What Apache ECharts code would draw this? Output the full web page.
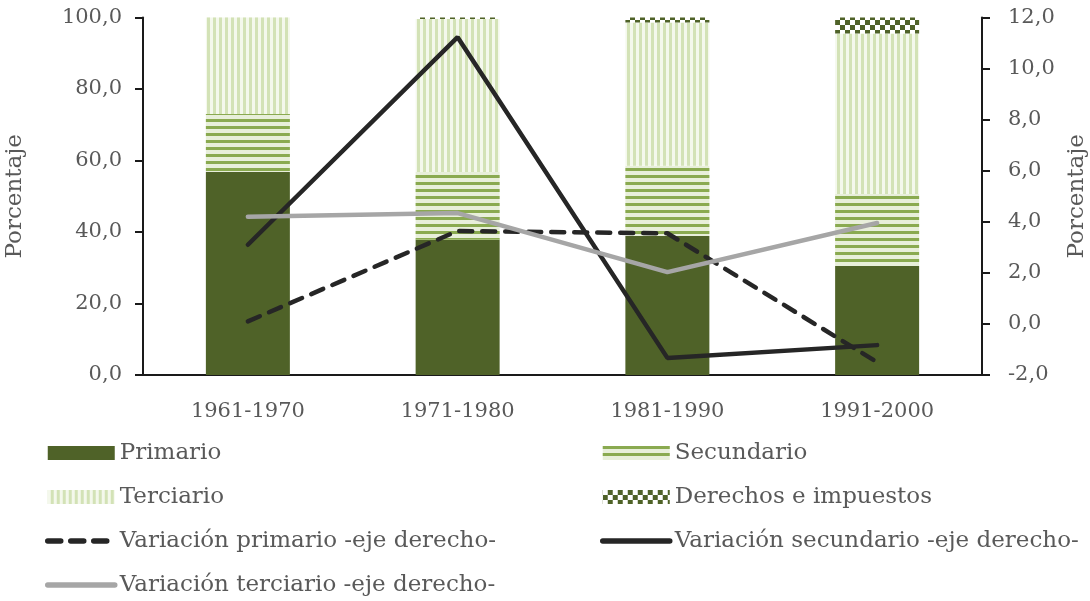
<!DOCTYPE html>
<html>
<head>
<meta charset="utf-8">
<script src="https://cdn.jsdelivr.net/npm/echarts@6/dist/echarts.min.js"></script>
<style>html,body{margin:0;padding:0;background:#fff}#c{width:1090px;height:601px}</style>
</head>
<body>
<div id="c"></div>
<script>
const categories = ['1961-1970', '1971-1980', '1981-1990', '1991-2000'];
const primario = [56.8, 37.8, 38.9, 30.5];
const secundario = [16.2, 19.0, 19.6, 20.1];
const terciario = [27.0, 42.8, 40.1, 44.9];
const derechos = [0.0, 0.4, 1.4, 4.5];
const varPrimario = [0.1, 3.64, 3.55, -1.5];
const varSecundario = [3.1, 11.23, -1.33, -0.83];
const varTerciario = [4.2, 4.34, 2.03, 3.95];
const leftTicks = {min: 0, max: 100, interval: 20};
const rightTicks = {min: -2, max: 12, interval: 2};

const FONT = '"DejaVu Serif", serif';
const TXT = '#595959';
const fmt = v => v.toFixed(1).replace('.', ',');

const chart = echarts.init(document.getElementById('c'), null, {renderer: 'canvas'});
const axisLine = {show: true, lineStyle: {color: '#1a1a1a', width: 2}};
const legendText = {fontFamily: FONT, fontSize: 23, color: TXT, lineHeight: 24};
const barLeg = name => ({name: name, icon: 'rect'});
const lineLeg = name => ({name: name, itemStyle: {opacity: 0}, lineStyle: {width: 5.5, cap: 'round'}});
chart.setOption({
  animation: false,
  backgroundColor: '#fff',
  grid: {left: 143, right: 108, top: 17.5, bottom: 226, outerBoundsMode: 'none', containLabel: false},
  legend: [
    {left: 45, top: 441, padding: 0, height: 160, orient: 'vertical', itemWidth: 67, itemHeight: 14, itemGap: 20,
     textStyle: legendText,
     data: [barLeg('Primario'), barLeg('Terciario'), lineLeg('Variación primario -eje derecho-'), lineLeg('Variación terciario -eje derecho-')]},
    {left: 600, top: 441, padding: 0, height: 160, orient: 'vertical', itemWidth: 67, itemHeight: 14, itemGap: 20,
     textStyle: legendText,
     data: [barLeg('Secundario'), barLeg('Derechos e impuestos'), lineLeg('Variación secundario -eje derecho-')]}
  ],
  xAxis: {
    type: 'category', data: categories,
    axisLine: axisLine, axisTick: {show: false},
    axisLabel: {fontFamily: FONT, fontSize: 21, color: TXT, margin: 26}
  },
  yAxis: [
    {type: 'value', min: leftTicks.min, max: leftTicks.max, interval: leftTicks.interval,
     name: 'Porcentaje', nameLocation: 'middle', nameGap: 116, nameRotate: 90,
     nameTextStyle: {fontFamily: FONT, fontSize: 23, color: TXT},
     axisLine: axisLine, axisTick: {show: true, length: 8, lineStyle: {color: '#1a1a1a', width: 2}},
     splitLine: {show: false},
     axisLabel: {fontFamily: FONT, fontSize: 21, color: TXT, margin: 21, formatter: fmt}},
    {type: 'value', min: rightTicks.min, max: rightTicks.max, interval: rightTicks.interval,
     position: 'right',
     name: 'Porcentaje', nameLocation: 'middle', nameGap: 82, nameRotate: 90,
     nameTextStyle: {fontFamily: FONT, fontSize: 23, color: TXT},
     axisLine: axisLine, axisTick: {show: true, length: 8, lineStyle: {color: '#1a1a1a', width: 2}},
     splitLine: {show: false},
     axisLabel: {fontFamily: FONT, fontSize: 21, color: TXT, margin: 26, formatter: fmt}}
  ],
  series: [
    {name: 'Primario', type: 'bar', stack: 'a', barWidth: 84, data: primario,
     itemStyle: {color: '#4f6228'}},
    {name: 'Secundario', type: 'bar', stack: 'a', barWidth: 84, data: secundario,
     itemStyle: {color: '#e8efda', decal: {symbol: 'rect', color: '#8aaa50', dashArrayX: [1, 0], dashArrayY: [2.5, 3.2], rotation: 0}}},
    {name: 'Terciario', type: 'bar', stack: 'a', barWidth: 84, data: terciario,
     itemStyle: {color: '#f4f8ec', decal: {symbol: 'rect', color: '#d3e2b6', dashArrayX: [1, 0], dashArrayY: [2.5, 2.5], rotation: Math.PI / 2}}},
    {name: 'Derechos e impuestos', type: 'bar', stack: 'a', barWidth: 84, data: derechos,
     itemStyle: {color: '#ffffff', decal: {symbol: 'rect', color: '#4f6228', dashArrayX: [[5, 5], [0, 5, 5, 0]], dashArrayY: [5, 0], rotation: 0}}},
    {name: 'Variación primario -eje derecho-', type: 'line', yAxisIndex: 1, data: varPrimario,
     symbol: 'none', lineStyle: {color: '#262626', width: 4.5, type: [13, 10], cap: 'round'},
     itemStyle: {color: '#262626'}},
    {name: 'Variación secundario -eje derecho-', type: 'line', yAxisIndex: 1, data: varSecundario,
     symbol: 'none', lineStyle: {color: '#262626', width: 4.5, cap: 'round'},
     itemStyle: {color: '#262626'}},
    {name: 'Variación terciario -eje derecho-', type: 'line', yAxisIndex: 1, data: varTerciario,
     symbol: 'none', lineStyle: {color: '#a6a6a6', width: 4.5, cap: 'round'},
     itemStyle: {color: '#a6a6a6'}}
  ]
});
</script>
</body>
</html>
